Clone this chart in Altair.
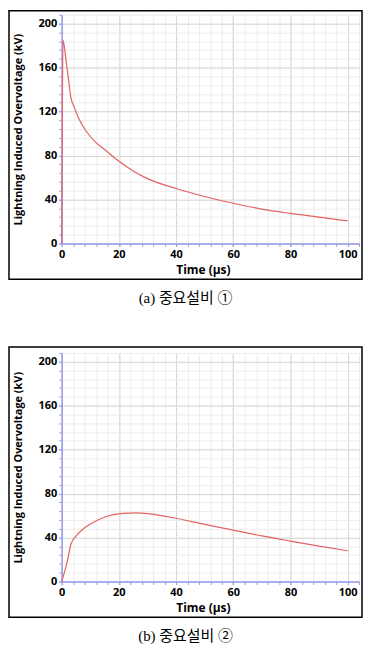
import altair as alt
import pandas as pd

# ---- data ----
t_a = [0, 0.1, 0.25, 0.45, 1.5, 2.4, 3.2, 4.4, 6.1, 8.4, 11.9, 15.4, 18.9, 25, 30, 40, 50, 60, 70, 80, 90, 100]
v_a = [0, 60, 130, 185, 167, 149, 132.8, 123.8, 113, 102.7, 92, 84.6, 77, 66, 59, 50, 42.7, 36.6, 31.3, 27.4, 24, 20.5]

t_b = [0, 0.9, 2.1, 3.2, 5.0, 7.3, 10.8, 15.4, 21.2, 26.4, 30, 40, 50, 60, 70, 80, 90, 100]
v_b = [0, 7.9, 20, 33.7, 41.4, 47.4, 53.5, 59, 62, 62.5, 61.8, 57.6, 52, 46.8, 41.5, 36.8, 32.3, 28]

x_major = [0, 20, 40, 60, 80, 100]
x_minor = list(range(0, 105, 4))
y_major = [0, 40, 80, 120, 160, 200]
y_minor = list(range(0, 209, 8))

captions = ["(a) 중요설비 ①", "(b) 중요설비 ②"]

AXIS_COL = "#9a9aea"
LINE_COL = "#e36262"
LABEL_FONT = "Open Sans"
CAPTION_FONT = "'Liberation Serif', 'Noto Sans CJK KR'"

W, H = 299, 230


def panel(t, v, caption, frame_top):
    df = pd.DataFrame({"t": t, "v": v})
    xs = alt.Scale(domain=[0, 104], nice=False, zero=False)
    ys = alt.Scale(domain=[0, 208], nice=False)

    minor = alt.Chart(df).mark_line(opacity=0).encode(
        x=alt.X("t:Q", scale=xs, axis=alt.Axis(
            orient="bottom", values=x_minor, grid=True, gridColor="#ececec",
            labels=False, ticks=True, tickSize=3, tickColor=AXIS_COL,
            domain=False, title=None)),
        y=alt.Y("v:Q", scale=ys, axis=alt.Axis(
            orient="left", values=y_minor, grid=True, gridColor="#ececec",
            labels=False, ticks=True, tickSize=3, tickColor=AXIS_COL,
            domain=False, title=None)),
    )

    main = alt.Chart(df).mark_line(
        color=LINE_COL, strokeWidth=1.2, interpolate="monotone"
    ).encode(
        x=alt.X("t:Q", scale=xs, axis=alt.Axis(
            orient="bottom", values=x_major, grid=True, gridColor="#d8d8d8",
            domain=True, domainColor=AXIS_COL, domainWidth=1.5,
            ticks=True, tickSize=3, tickColor=AXIS_COL,
            labelFont=LABEL_FONT, labelFontWeight="bold", labelFontSize=11,
            labelColor="black", labelPadding=2, labelFlush=False,
            title="Time (μs)", titleFont=LABEL_FONT, titleFontSize=12,
            titleFontWeight="bold", titleColor="black",
            titleX=142, titleY=26, titleBaseline="middle")),
        y=alt.Y("v:Q", scale=ys, axis=alt.Axis(
            orient="left", values=y_major, grid=True, gridColor="#d8d8d8",
            domain=True, domainColor=AXIS_COL, domainWidth=1.5,
            ticks=True, tickSize=3, tickColor=AXIS_COL,
            labelFont=LABEL_FONT, labelFontWeight="bold", labelFontSize=11,
            labelColor="black", labelPadding=2,
            title="Lightning Induced Overvoltage (kV)", titleFont=LABEL_FONT,
            titleFontSize=11, titleFontWeight="bold", titleColor="black",
            titleX=-43, titleY=115, titleBaseline="middle")),
    )

    frame = alt.Chart(alt.Data(values=[{"k": 1}])).mark_rect(
        filled=False, stroke="black", strokeWidth=1.5
    ).encode(
        x=alt.value(-53), x2=alt.value(W + 3),
        y=alt.value(-frame_top), y2=alt.value(H + 36),
    )

    return alt.layer(minor, main, frame).resolve_axis(
        x="independent", y="independent"
    ).properties(
        width=W, height=H,
        title=alt.TitleParams(
            text=caption, orient="bottom", anchor="middle", frame="bounds",
            font=CAPTION_FONT, fontSize=15,
            fontWeight="normal", color="black", offset=11),
    )


chart = alt.vconcat(
    panel(t_a, v_a, captions[0], 4),
    panel(t_b, v_b, captions[1], 6),
    spacing=40,
).properties(padding=0).configure_view(strokeWidth=0)

chart.save("out.html", embed_options={"renderer": "svg", "actions": False})
